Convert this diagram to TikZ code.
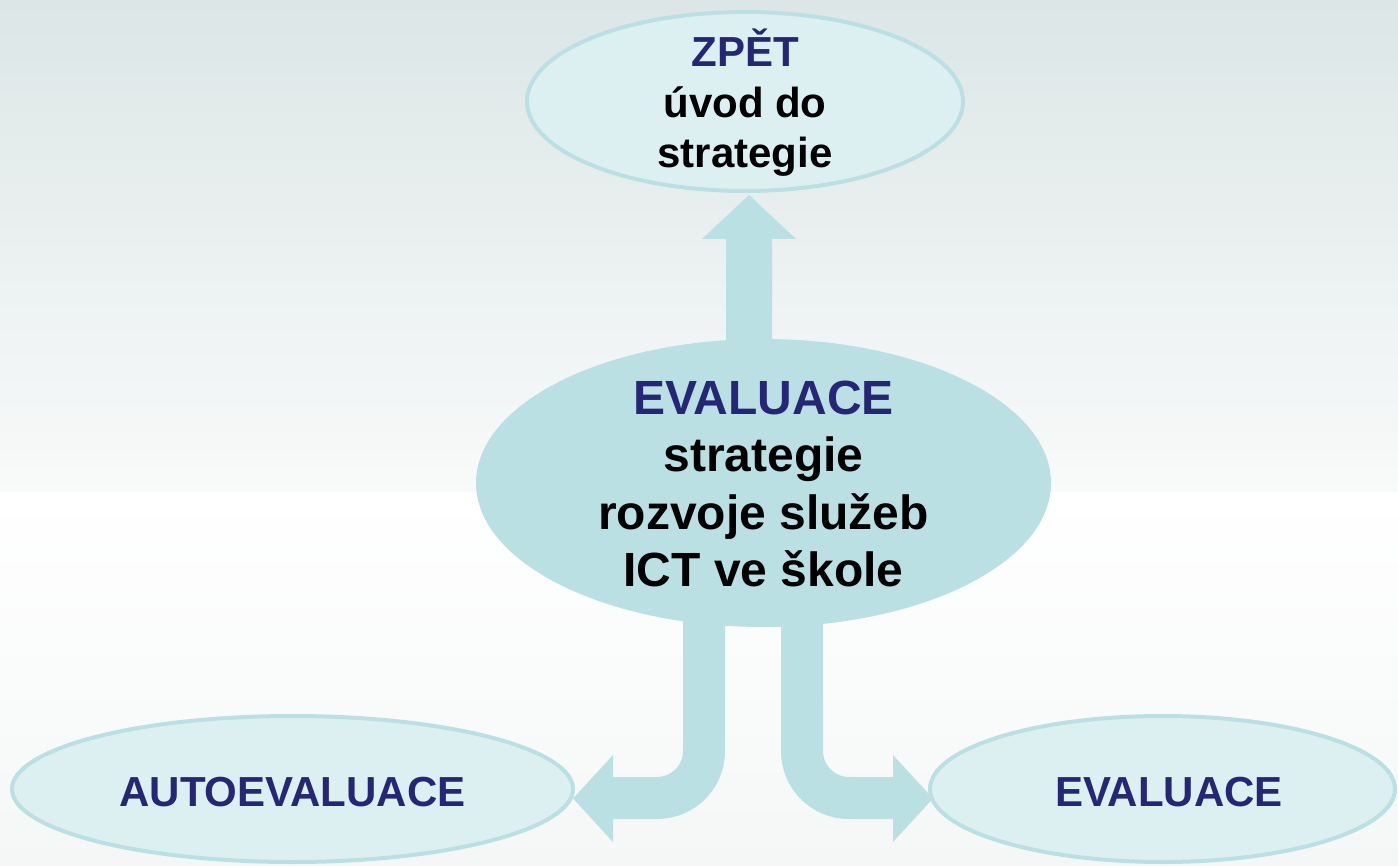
\documentclass[tikz,border=0pt]{standalone}
\usepackage{fontspec}
\setmainfont{Liberation Sans}
\usetikzlibrary{shapes.geometric}
\definecolor{tealA}{RGB}{187,224,227}
\definecolor{checkfill}{RGB}{220,239,241}
\definecolor{navyA}{RGB}{38,38,118}
\definecolor{bgtop}{RGB}{220,230,230}
\definecolor{bgmid}{RGB}{249,250,250}
\definecolor{bgbot}{RGB}{245,247,247}
\begin{document}
\begin{tikzpicture}[x=1pt,y=-1pt,
  hatchell/.style={ellipse,draw=tealA,line width=4pt,fill=checkfill,inner sep=0pt,outer sep=0pt},
  solidell/.style={ellipse,fill=tealA,inner sep=0pt,outer sep=0pt},
  blockarrow/.style={fill=tealA},
  toptext/.style={inner sep=0pt,align=center,font=\fontsize{42}{50.5}\selectfont\bfseries},
  midtext/.style={inner sep=0pt,align=center,font=\fontsize{48}{57.5}\selectfont\bfseries},
  lowtext/.style={inner sep=0pt,font=\fontsize{42}{50}\selectfont\bfseries,text=navyA}]
\useasboundingbox (0,0) rectangle (1398,866);
\shade[top color=bgtop,bottom color=bgmid] (0,0) rectangle (1398,492);
\shade[top color=white,bottom color=bgbot] (0,492) rectangle (1398,866);

% block arrows
\fill[blockarrow] (726,345) -- (726,239) -- (702,239) -- (749,195) -- (796,239) -- (772,239) -- (772,345) -- cycle;
\fill[blockarrow] (725,600) -- (725,751) .. controls (725,788.6) and (694.6,819) .. (657,819)
  -- (613,819) -- (613,842) -- (573,798.5) -- (613,755) -- (613,777) -- (657,777)
  .. controls (671.4,777) and (683,765.4) .. (683,751) -- (683,600) -- cycle;
\fill[blockarrow] (781,600) -- (781,751) .. controls (781,788.6) and (811.4,819) .. (849,819)
  -- (893,819) -- (893,842) -- (933,798.5) -- (893,755) -- (893,777) -- (849,777)
  .. controls (834.6,777) and (823,765.4) .. (823,751) -- (823,600) -- cycle;

% ellipses
\node[hatchell,minimum width=436pt,minimum height=179pt] (back) at (745,101.5) {};
\node[solidell,minimum width=575pt,minimum height=288pt] (mid) at (763.5,483) {};
\node[hatchell,minimum width=561pt,minimum height=146pt] (auto) at (292.5,789) {};
\node[hatchell,minimum width=465pt,minimum height=146pt] (eval) at (1162.5,789) {};

% texts
\node[toptext] (backlabel) at (745,102.9) {\textcolor{navyA}{ZPĚT}\\úvod do\\strategie};
\node[midtext] (midlabel) at (763.5,483.8) {\textcolor{navyA}{EVALUACE}\\strategie\\rozvoje služeb\\ICT ve škole};
\node[lowtext] (autolabel) at (292.5,792) {AUTOEVALUACE};
\node[lowtext] (evallabel) at (1169,792) {EVALUACE};
\end{tikzpicture}
\end{document}
